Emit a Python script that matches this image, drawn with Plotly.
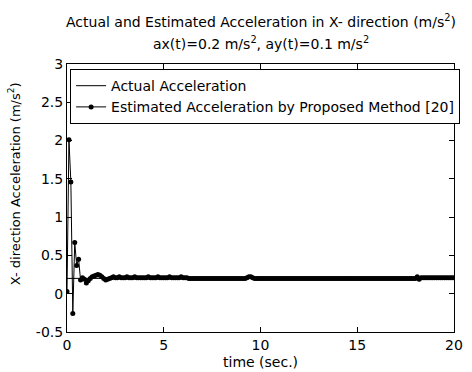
import plotly.graph_objects as go

# time samples (s), step 0.1 from 0 to 20
time = [round(0.1 * i, 1) for i in range(201)]

estimated = [
    0.03, 2.01, 1.46, -0.26, 0.67, 0.37, 0.45, 0.18, 0.21, 0.19,
    0.14, 0.17, 0.20, 0.22, 0.23, 0.24, 0.25, 0.24, 0.22, 0.20,
    0.18, 0.19, 0.20, 0.21, 0.22, 0.21, 0.21, 0.22, 0.21, 0.21,
    0.21, 0.22, 0.21, 0.21, 0.21, 0.22, 0.21, 0.21, 0.21, 0.21,
    0.21, 0.21, 0.22, 0.21, 0.21, 0.21, 0.21, 0.22, 0.21, 0.21,
    0.21, 0.21, 0.21, 0.22, 0.21, 0.21, 0.21, 0.21, 0.21, 0.22,
    0.21, 0.21, 0.21, 0.20, 0.20, 0.20, 0.20, 0.20, 0.20, 0.20,
    0.20, 0.20, 0.20, 0.20, 0.20, 0.20, 0.20, 0.20, 0.20, 0.20,
    0.20, 0.20, 0.20, 0.20, 0.20, 0.20, 0.20, 0.20, 0.20, 0.20,
    0.20, 0.20, 0.20, 0.21, 0.22, 0.22, 0.21, 0.20, 0.20, 0.20,
    0.20, 0.20, 0.20, 0.20, 0.20, 0.20, 0.20, 0.20, 0.20, 0.20,
    0.20, 0.20, 0.20, 0.20, 0.20, 0.20, 0.20, 0.20, 0.20, 0.20,
    0.20, 0.20, 0.20, 0.20, 0.20, 0.20, 0.20, 0.20, 0.20, 0.20,
    0.20, 0.20, 0.20, 0.20, 0.20, 0.20, 0.20, 0.20, 0.20, 0.20,
    0.20, 0.20, 0.20, 0.20, 0.20, 0.20, 0.20, 0.20, 0.20, 0.20,
    0.20, 0.20, 0.20, 0.20, 0.20, 0.20, 0.20, 0.20, 0.20, 0.20,
    0.20, 0.20, 0.20, 0.20, 0.20, 0.20, 0.20, 0.20, 0.20, 0.20,
    0.20, 0.20, 0.20, 0.20, 0.20, 0.20, 0.20, 0.20, 0.20, 0.20,
    0.20, 0.22, 0.19, 0.21, 0.21, 0.21, 0.21, 0.21, 0.21, 0.21,
    0.21, 0.21, 0.21, 0.21, 0.21, 0.21, 0.21, 0.21, 0.21, 0.21,
    0.21,
]

actual_time = [0, 20]
actual = [0.2, 0.2]

x_ticks = [0, 5, 10, 15, 20]
y_ticks = [-0.5, 0, 0.5, 1, 1.5, 2, 2.5, 3]
y_tick_text = ["-0.5", "0", "0.5", "1", "1.5", "2", "2.5", "3"]

title_lines = [
    "Actual and Estimated Acceleration in X- direction (m/s<sup>2</sup>)",
    "ax(t)=0.2 m/s<sup>2</sup>, ay(t)=0.1 m/s<sup>2</sup>",
]
x_label = "time (sec.)"
y_label = "X- direction Acceleration (m/s<sup>2</sup>)"

FONT = "DejaVu Sans, sans-serif"
FS = 14

W, H = 472, 372
ML, MR, MT, MB = 67, 9, 64, 40
PW = W - ML - MR
PH = H - MT - MB

fig = go.Figure()
fig.add_trace(go.Scatter(
    x=actual_time, y=actual, mode="lines",
    line=dict(color="black", width=1),
    name="Actual Acceleration",
))
fig.add_trace(go.Scatter(
    x=time, y=estimated, mode="lines+markers",
    line=dict(color="black", width=1),
    marker=dict(color="black", size=5),
    name="Estimated Acceleration by Proposed Method [20]",
))

axis_common = dict(
    showgrid=False, zeroline=False, showline=True, linecolor="black",
    linewidth=1, mirror="ticks", ticks="inside", ticklen=5,
    tickcolor="black", tickfont=dict(family=FONT, size=FS, color="black"),
)

# title lines as annotations; bottom positions in pixels from top
title_bottoms = [31, 53]
for txt, yb in zip(title_lines, title_bottoms):
    fig.add_annotation(
        text=txt, xref="paper", yref="paper",
        x=0.5, xanchor="center",
        y=1 + (MT - yb) / PH, yanchor="bottom",
        showarrow=False, borderpad=0,
        font=dict(family=FONT, size=FS, color="black"),
    )

# axis labels
fig.add_annotation(
    text=x_label, xref="paper", yref="paper",
    x=0.5, xanchor="center", y=-(362 - (MT + PH)) / PH, yanchor="middle",
    showarrow=False, borderpad=0,
    font=dict(family=FONT, size=FS, color="black"),
)
fig.add_annotation(
    text=y_label, xref="paper", yref="paper", textangle=-90,
    x=(13 - ML) / PW, xanchor="center", y=1 - (184 - MT) / PH, yanchor="middle",
    showarrow=False, borderpad=0,
    font=dict(family=FONT, size=13, color="black"),
)

fig.update_layout(
    width=W, height=H,
    margin=dict(l=ML, r=MR, t=MT, b=MB),
    paper_bgcolor="white", plot_bgcolor="white",
    font=dict(family=FONT, size=FS, color="black"),
    xaxis=dict(range=[0, 20], tickvals=x_ticks, **axis_common),
    yaxis=dict(range=[-0.5, 3], tickvals=y_ticks, ticktext=y_tick_text,
               **axis_common),
    legend=dict(
        x=0.008, y=0.981, xanchor="left", yanchor="top",
        bgcolor="white", bordercolor="black", borderwidth=1,
        font=dict(family=FONT, size=FS, color="black"),
        tracegroupgap=0, itemwidth=30,
    ),
    showlegend=True,
)

fig.write_html("out.html")
